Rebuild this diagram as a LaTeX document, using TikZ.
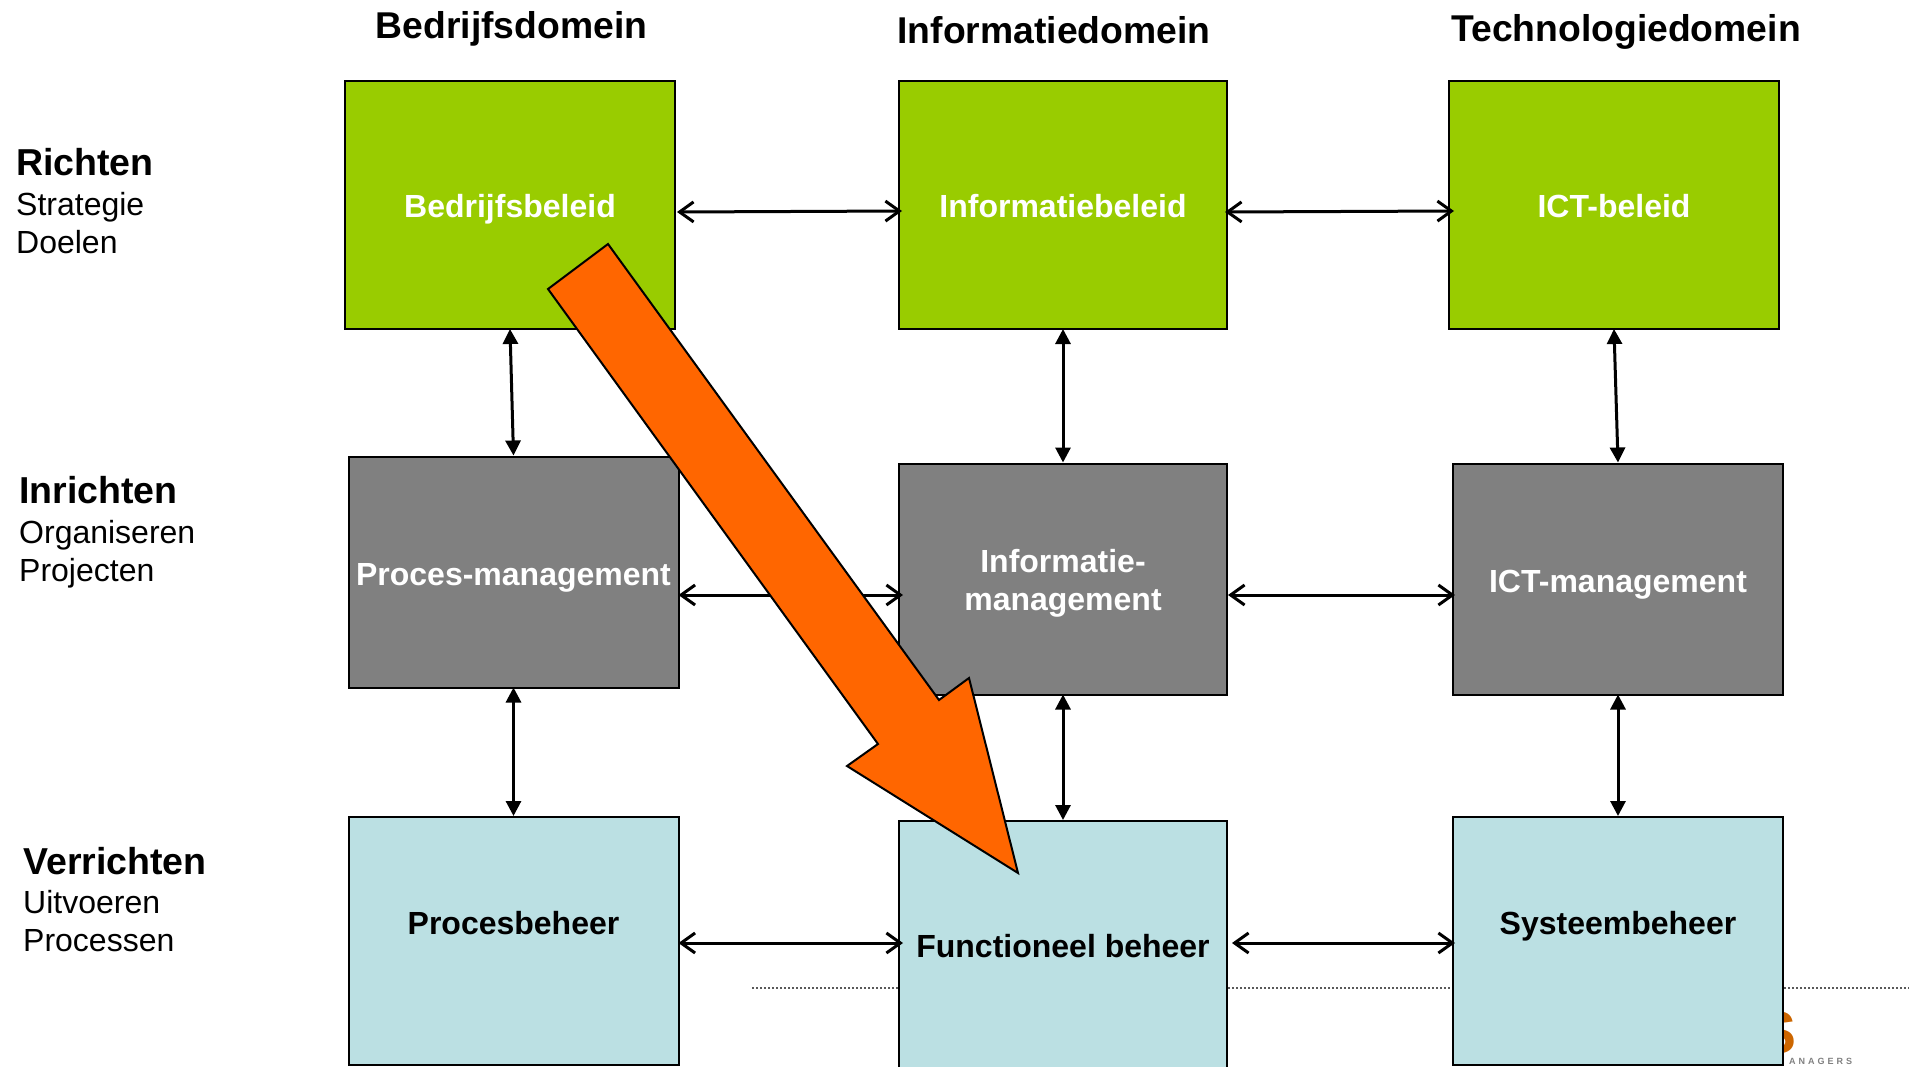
\documentclass[tikz,border=0pt]{standalone}
\usepackage{fontspec}
\setmainfont{Liberation Sans}
\usetikzlibrary{arrows.meta,calc}
\definecolor{grn}{HTML}{99CC00}
\definecolor{gry}{HTML}{808080}
\definecolor{lbl}{HTML}{BBE0E3}
\definecolor{org}{HTML}{FF6600}
\tikzset{
  x=1pt,y=-1pt,
  box/.style={draw=black,line width=2pt,minimum width=#1,align=center,inner sep=0pt,font=\fontsize{32}{38}\selectfont\bfseries},
  greenbox/.style={box=330pt,fill=grn,text=white,minimum height=248pt},
  greybox/.style={box=330pt,fill=gry,text=white,minimum height=231pt},
  bluebox/.style={box=330pt,fill=lbl,text=black,minimum height=248pt},
  narrow/.style={minimum width=328pt},
  txtdown/.style={text height=#1,text depth=0pt},
  txtup/.style={text height=0pt,text depth=#1},
  hconn/.style={line width=3pt,{Straight Barb[length=14pt,width=20pt]}-{Straight Barb[length=14pt,width=20pt]}},
  vconn/.style={line width=3pt,{Triangle[length=15pt,width=15pt]}-{Triangle[length=15pt,width=15pt]}},
  domainhead/.style={font=\fontsize{37.3}{44}\selectfont\bfseries,inner sep=0pt},
  lvl/.style={anchor=north west,align=left,inner sep=0pt,font=\fontsize{32}{38}\selectfont},
}
\newcommand{\lvlhead}[1]{{\fontsize{37.5}{40}\selectfont\bfseries #1}}
\begin{document}
\begin{tikzpicture}
\useasboundingbox (0,0) rectangle (1912,1066);
% dotted rule and logo fragment behind boxes
\coordinate (ruleA) at (752,988);
\coordinate (ruleB) at (1909,988);
\draw[line width=2pt,dotted,black!65] (ruleA) -- (ruleB);
\node[inner sep=0pt,text=orange!80!black,font=\fontsize{60}{60}\selectfont\bfseries] (logoS) at (1776,1033) {S};
\node[inner sep=0pt,text=black!50,font=\fontsize{9}{9}\selectfont\bfseries,anchor=west] (logoT) at (1789,1061) {A\,\,N\,\,A\,\,G\,\,E\,\,R\,\,S};
% headings
\node[domainhead] (d1) at (511.5,29) {Bedrijfsdomein};
\node[domainhead] (d2) at (1054,30) {Informatiedomein};
\node[domainhead] (d3) at (1626,31.5) {Technologiedomein};
% side labels
\node[lvl] (l1) at (16,148) {\lvlhead{Richten}\\[2pt]Strategie\\Doelen};
\node[lvl] (l2) at (19,476) {\lvlhead{Inrichten}\\[2pt]Organiseren\\Projecten};
\node[lvl] (l3) at (23,847) {\lvlhead{Verrichten}\\[1.5pt]Uitvoeren\\Processen};
% boxes
\node[greenbox,txtdown=24pt] (a1) at (510,205) {Bedrijfsbeleid};
\node[greenbox,narrow,txtdown=24pt] (a2) at (1063,205) {Informatiebeleid};
\node[greenbox,txtdown=24pt] (a3) at (1614,205) {ICT-beleid};
\node[greybox,txtdown=26pt] (b1) at (513.5,572) {Proces-management};
\node[greybox,narrow] (b2) at (1063,579) {\rule{0pt}{31pt}Informatie-\\management};
\node[greybox,txtdown=26pt] (b3) at (1618,579) {ICT-management};
\node[bluebox,txtup=13pt] (c1) at (513.5,941) {Procesbeheer};
\node[bluebox,narrow,txtdown=25pt] (c2) at (1063,945) {Functioneel beheer};
\node[bluebox,txtup=13pt] (c3) at (1618,941) {Systeembeheer};
% horizontal connectors
\draw[hconn] ([xshift=1pt,yshift=-7pt]a1.east) -- ([xshift=4pt,yshift=-6pt]a2.west);
\draw[hconn] ([xshift=-3pt,yshift=-7pt]a2.east) -- ([xshift=6pt,yshift=-6pt]a3.west);
\draw[hconn] ([xshift=-1pt,yshift=-23pt]b1.east) -- ([xshift=5pt,yshift=-16pt]b2.west);
\draw[hconn] ([xshift=0pt,yshift=-16pt]b2.east) -- ([xshift=3pt,yshift=-16pt]b3.west);
\draw[hconn] ([xshift=-1pt,yshift=-2pt]c1.east) -- ([xshift=5pt,yshift=2pt]c2.west);
\draw[hconn] ([xshift=4pt,yshift=2pt]c2.east) -- ([xshift=3pt,yshift=-2pt]c3.west);
% vertical connectors
\draw[vconn] ([yshift=1pt]a1.south) -- (b1.north);
\draw[vconn] ([yshift=1pt]a2.south) -- (b2.north);
\draw[vconn] ([yshift=1pt]a3.south) -- (b3.north);
\draw[vconn] ([yshift=1pt]b1.south) -- (c1.north);
\draw[vconn] ([yshift=1pt]b2.south) -- (c2.north);
\draw[vconn] ([yshift=1pt]b3.south) -- (c3.north);
% big arrow
\draw[fill=org,draw=black,line width=2pt,line join=miter]
 (608,244) -- (548,289) -- (878,744) -- (847,766) -- (1018,873) -- (969,678) -- (939,700) -- cycle;
\end{tikzpicture}
\end{document}
